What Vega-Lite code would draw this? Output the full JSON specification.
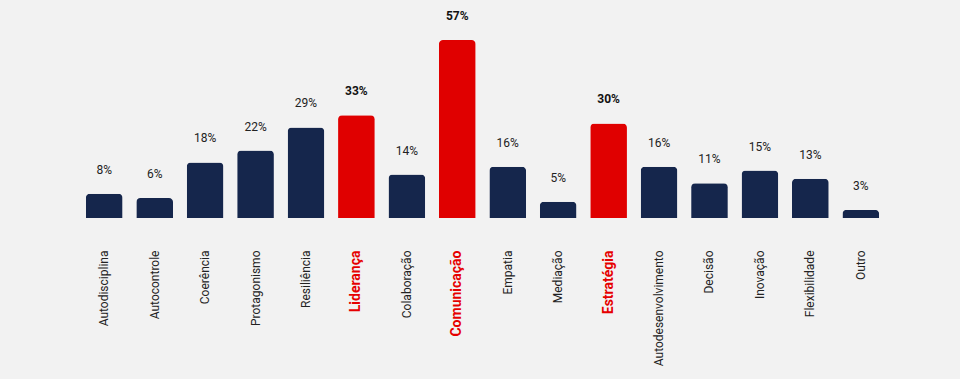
{
  "$schema": "https://vega.github.io/schema/vega-lite/v6.json",
  "width": 807,
  "height": 178,
  "autosize": {"type": "none"},
  "padding": {"left": 79, "top": 40, "right": 74, "bottom": 161},
  "background": "#f2f2f2",
  "config": {
    "view": {"stroke": null},
    "font": "Roboto",
    "text": {"font": "Roboto"}
  },
  "data": {
    "values": [
      {"cat": "Autodisciplina", "value": 7.8},
      {"cat": "Autocontrole", "value": 6.4},
      {"cat": "Coerência", "value": 17.8},
      {"cat": "Protagonismo", "value": 21.6},
      {"cat": "Resiliência", "value": 29},
      {"cat": "Liderança", "value": 32.9},
      {"cat": "Colaboração", "value": 13.9},
      {"cat": "Comunicação", "value": 57},
      {"cat": "Empatia", "value": 16.4},
      {"cat": "Mediação", "value": 5.2},
      {"cat": "Estratégia", "value": 30.3},
      {"cat": "Autodesenvolvimento", "value": 16.4},
      {"cat": "Decisão", "value": 11.1},
      {"cat": "Inovação", "value": 15.2},
      {"cat": "Flexibilidade", "value": 12.6},
      {"cat": "Outro", "value": 2.6}
    ]
  },
  "transform": [
    {"calculate": "indexof(['Liderança','Comunicação','Estratégia'], datum.cat) >= 0", "as": "hl"},
    {"calculate": "format(datum.value, '.0f') + '%'", "as": "lbl"}
  ],
  "encoding": {
    "x": {
      "field": "cat",
      "type": "nominal",
      "sort": null,
      "scale": {"paddingInner": 0.272, "paddingOuter": 0.136},
      "axis": {
        "title": null,
        "labelAngle": -90,
        "labelAlign": "right",
        "labelBaseline": "middle",
        "ticks": false,
        "tickSize": 0,
        "domain": false,
        "labelPadding": 32,
        "labelFont": "Roboto",
        "labelFontSize": {"condition": {"test": "indexof(['Liderança','Comunicação','Estratégia'], datum.value) >= 0", "value": 14}, "value": 12},
        "labelFontWeight": {"condition": {"test": "indexof(['Liderança','Comunicação','Estratégia'], datum.value) >= 0", "value": "bold"}, "value": "normal"},
        "labelColor": {"condition": {"test": "indexof(['Liderança','Comunicação','Estratégia'], datum.value) >= 0", "value": "#e60000"}, "value": "#222222"}
      }
    },
    "y": {
      "field": "value",
      "type": "quantitative",
      "scale": {"domain": [0, 57], "nice": false},
      "axis": null
    }
  },
  "layer": [
    {
      "mark": {"type": "bar", "cornerRadiusTopLeft": 4, "cornerRadiusTopRight": 4},
      "encoding": {
        "color": {
          "condition": {"test": "datum.hl", "value": "#e00000"},
          "value": "#15264c"
        }
      }
    },
    {
      "transform": [{"filter": "!datum.hl"}],
      "mark": {"type": "text", "dy": -24, "baseline": "middle", "fontSize": 12, "color": "#222222", "font": "Roboto"},
      "encoding": {"text": {"field": "lbl"}}
    },
    {
      "transform": [{"filter": "datum.hl"}],
      "mark": {"type": "text", "dy": -24, "baseline": "middle", "fontSize": 12, "fontWeight": "bold", "color": "#111111", "font": "Roboto"},
      "encoding": {"text": {"field": "lbl"}}
    }
  ]
}
